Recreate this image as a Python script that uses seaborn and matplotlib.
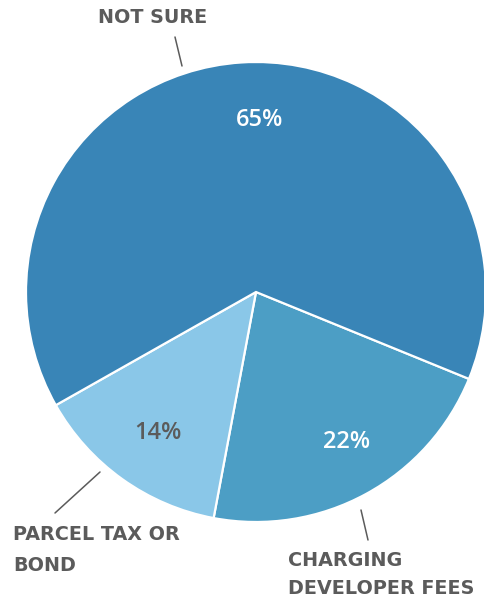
import matplotlib
matplotlib.use("Agg")
import matplotlib.pyplot as plt
import seaborn as sns
import numpy as np

categories = ["CHARGING\nDEVELOPER FEES", "PARCEL TAX OR\nBOND", "NOT SURE"]
values = [22, 14, 65]
pct_labels = ["22%", "14%", "65%"]
colors = ["#4c9ec5", "#8ac7e8", "#3985b7"]

sns.set_theme(style="white")
plt.rcParams['font.family'] = ['Open Sans', 'DejaVu Sans']

W, H = 484, 599
CX, CY, R = 256, 292, 230

def px(x, y):
    return ((x - CX) / R, (CY - y) / R)

fig = plt.figure(figsize=(W / 100, H / 100), dpi=100)
ax = fig.add_axes([0, 0, 1, 1])
ax.set_aspect('equal')
ax.axis('off')

start = -22.2
ax.pie(values, colors=colors, startangle=start, counterclock=False, radius=1,
       wedgeprops=dict(edgecolor='white', linewidth=1.6))
ax.set_xlim(-CX / R, (W - CX) / R)
ax.set_ylim(-(H - CY) / R, CY / R)

grey = "#5b5b5b"
# percentage labels
pct_pos = [px(347, 442), px(158, 433), px(260, 120)]
pct_col = ["white", grey, "white"]
for t, p, c in zip(pct_labels, pct_pos, pct_col):
    ax.text(p[0], p[1], t, ha='center', va='center', fontsize=17, color=c,
            fontweight='semibold')

# leader lines
leaders = [((361, 510), (368, 540)), ((100, 472), (55, 513)), ((182, 66), (175, 37))]
for a, b in leaders:
    pa, pb = px(*a), px(*b)
    ax.plot([pa[0], pb[0]], [pa[1], pb[1]], color=grey, lw=1.1)

# category labels
lab = [(px(288, 574.5), 'left', 1.62), (px(13, 550), 'left', 1.8), (px(153, 17), 'center', 1.2)]
for t, (p, ha, ls) in zip(categories, lab):
    ax.text(p[0], p[1], t, ha=ha, va='center', fontsize=13.8, color=grey,
            fontweight='bold', linespacing=ls, family='DejaVu Sans')

fig.savefig("out.png", dpi=100)
